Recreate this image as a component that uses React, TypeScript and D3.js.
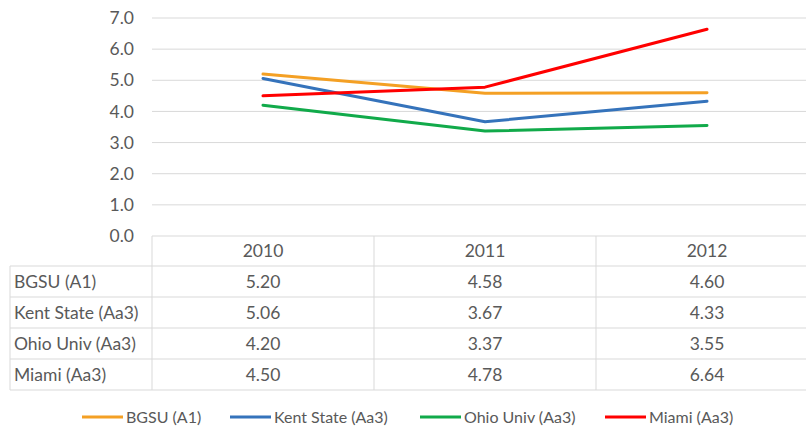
import React from "react";
import * as d3 from "d3";

// chart data
const years = ["2010", "2011", "2012"];
const seriesNames = ["BGSU (A1)", "Kent State (Aa3)", "Ohio Univ (Aa3)", "Miami (Aa3)"];
const bgsu = [5.2, 4.58, 4.6];
const kentState = [5.06, 3.67, 4.33];
const ohioUniv = [4.2, 3.37, 3.55];
const miami = [4.5, 4.78, 6.64];
const yTicks = [0, 1, 2, 3, 4, 5, 6, 7];
const colors = ["#F4A024", "#3573BB", "#11AA4A", "#FF0000"];

const allSeries = [bgsu, kentState, ohioUniv, miami];

export default function App() {
  const width = 806;
  const height = 428;
  // plot area
  const left = 152;
  const bandW = 222;
  const top = 18;
  const bottom = 236;
  const rowH = 31;

  const x = d3.scaleBand().domain(years).range([left, left + bandW * years.length]);
  const y = d3.scaleLinear().domain([0, 7]).range([bottom, top]);

  const line = d3
    .line<number>()
    .x((_, i) => (x(years[i]) as number) + x.bandwidth() / 2)
    .y((d) => y(d));

  const gridColor = "#D9D9D9";
  const textColor = "#595959";
  const font = "Lato, 'Open Sans', sans-serif";
  const fs = 17.5;

  const tableTop = bottom;
  const headerH = 30;
  const bodyTop = tableTop + headerH;
  const tableBottom = bodyTop + rowH * seriesNames.length;
  const tableLeft = 10;
  const tableRight = left + bandW * years.length;

  // legend layout
  const legendY = 417;
  const legendX = [82, 230, 420, 605];

  return (
    <svg
      width={width}
      height={height}
      style={{ position: "absolute", left: 0, top: 0, background: "#fff" }}
      fontFamily={font}
    >
      {/* gridlines */}
      {yTicks.map((t) => (
        <g key={t}>
          <line x1={left} x2={width} y1={y(t)} y2={y(t)} stroke={gridColor} strokeWidth={1} />
          <text x={134} y={y(t)} dy="0.35em" textAnchor="end" fontSize={fs} fill={textColor}>
            {t.toFixed(1)}
          </text>
        </g>
      ))}

      {/* data table */}
      <g>
        {d3.range(seriesNames.length + 1).map((i) => (
          <line
            key={"h" + i}
            x1={tableLeft}
            x2={tableRight}
            y1={bodyTop + i * rowH}
            y2={bodyTop + i * rowH}
            stroke={gridColor}
          />
        ))}
        <line x1={tableLeft} x2={tableLeft} y1={bodyTop} y2={tableBottom} stroke={gridColor} />
        {years.map((yr) => (
          <line
            key={"v" + yr}
            x1={x(yr) as number}
            x2={x(yr) as number}
            y1={tableTop}
            y2={tableBottom}
            stroke={gridColor}
          />
        ))}
        <line x1={tableRight} x2={tableRight} y1={tableTop} y2={tableBottom} stroke={gridColor} />
        {years.map((yr) => (
          <text
            key={"yr" + yr}
            x={(x(yr) as number) + x.bandwidth() / 2}
            y={tableTop + headerH / 2}
            dy="0.35em"
            textAnchor="middle"
            fontSize={fs}
            fill={textColor}
          >
            {yr}
          </text>
        ))}
        {seriesNames.map((name, r) => (
          <g key={name}>
            <text x={14} y={bodyTop + r * rowH + rowH / 2} dy="0.35em" fontSize={fs} fill={textColor}>
              {name}
            </text>
            {allSeries[r].map((v, i) => (
              <text
                key={i}
                x={(x(years[i]) as number) + x.bandwidth() / 2}
                y={bodyTop + r * rowH + rowH / 2}
                dy="0.35em"
                textAnchor="middle"
                fontSize={fs}
                fill={textColor}
              >
                {v.toFixed(2)}
              </text>
            ))}
          </g>
        ))}
      </g>

      {/* series lines */}
      {allSeries.map((s, i) => (
        <path
          key={seriesNames[i]}
          d={line(s) as string}
          fill="none"
          stroke={colors[i]}
          strokeWidth={3}
          strokeLinejoin="round"
          strokeLinecap="round"
        />
      ))}

      {/* legend */}
      {seriesNames.map((name, i) => (
        <g key={"lg" + name} transform={`translate(${legendX[i]},${legendY})`}>
          <line x1={0} x2={41} y1={0} y2={0} stroke={colors[i]} strokeWidth={3} />
          <text x={44} y={0} dy="0.35em" fontSize={16} fill={textColor}>
            {name}
          </text>
        </g>
      ))}
    </svg>
  );
}
